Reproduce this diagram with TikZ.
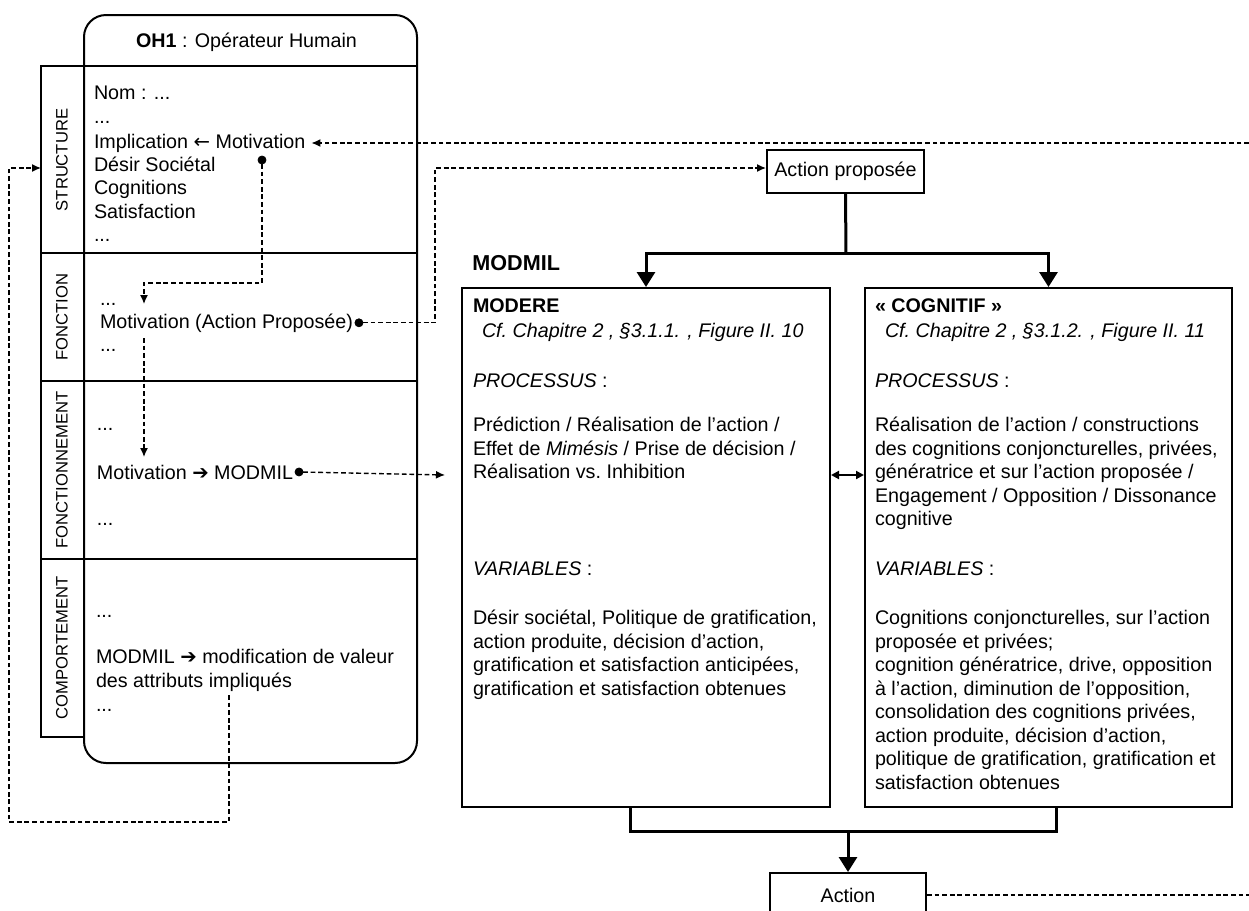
\documentclass[tikz,border=0pt]{standalone}
\usepackage{fontspec}
\setmainfont{Liberation Sans}
\newfontfamily\arrfont{DejaVu Sans}
\usetikzlibrary{arrows.meta,positioning,calc}
\newcommand{\txtfont}{\fontsize{9.85}{11.75}\selectfont}
\newcommand{\tabfont}{\fontsize{8.3}{10}\selectfont}
\newcommand{\bigarr}{{\arrfont ➔}}
\newcommand{\thinarr}{{\arrfont ←}}
\tikzset{
    txt/.style={inner sep=0pt,outer sep=0pt,anchor=base west,font=\txtfont},
    blk/.style={inner sep=0pt,outer sep=0pt,anchor=north west,align=left,font=\txtfont},
    tablabel/.style={rotate=90,inner sep=0pt,font=\tabfont},
    panel/.style={line width=1pt},
    bigbox/.style={draw,line width=1pt,inner sep=0pt,minimum height=259.5pt},
    smallbox/.style={draw,line width=1pt,inner sep=0pt,font=\txtfont},
    dot/.style={draw,fill,circle,inner sep=0pt,outer sep=0pt,minimum size=4pt},
    dashline/.style={dash pattern=on 2.4pt off 1.4pt,line width=0.7pt},
    dasharrow/.style={dashline,-{Latex[length=4.5pt,width=4pt]}},
    flow/.style={line width=1.5pt,-{Triangle[length=7.5pt,width=9pt]}},
    bar/.style={line width=1.5pt,line join=miter},
    dbl/.style={line width=1pt,{Triangle[length=4pt,width=4pt]}-{Triangle[length=4pt,width=4pt]}},
}
\begin{document}
\begin{tikzpicture}[x=0.5pt,y=-0.5pt]
\clip (0,0) rectangle (1249,911);
% --- OH1 panel ---
\draw[panel,rounded corners=11pt] (84,15) rectangle (417,763);
\draw[panel] (41,66) rectangle (84,737);
\draw[panel] (41,66) -- (417,66);
\draw[panel] (41,253) -- (417,253);
\draw[panel] (41,381) -- (417,381);
\draw[panel] (41,559) -- (417,559);
\node[font=\txtfont] (title) at (246.5,42) {\textbf{OH1} : Opérateur Humain};
% side labels
\node[tablabel] (lstruct) at (62,160) {STRUCTURE};
\node[tablabel] (lfonc) at (62,317) {FONCTION};
\node[tablabel] (lfoncmt) at (62,470) {FONCTIONNEMENT};
\node[tablabel] (lcomp) at (62,648) {COMPORTEMENT};
% structure
\node[blk] (nom) at (94,83.5) {\strut Nom : ...\\...};
\node[txt] (impl) at (94,148) {Implication \thinarr{} Motivation};
\node[blk] (attr) at (94,155) {\strut Désir Sociétal\\Cognitions\\Satisfaction\\...};
\node[dot] (d1) at (262,160) {};
% fonction
\node[txt] (fdots) at (100,305) {...};
\node[txt] (fmot) at (100,328) {Motivation (Action Proposée)};
\node[txt] (fdots2) at (100,351) {...};
\node[dot] (d2) at ([xshift=3pt]fmot.east) {};
% fonctionnement
\node[txt] (ndots) at (97,430) {...};
\node[txt] (nmot) at (97,479) {Motivation \bigarr{} MODMIL};
\node[txt] (ndots2) at (97,525) {...};
\node[dot] (d3) at ([xshift=3pt]nmot.east) {};
% comportement
\node[txt] (cdots) at (96,617) {...};
\node[blk] (cmod) at (96,647.5) {\strut MODMIL \bigarr{} modification de valeur\\des attributs impliqués};
\node[txt] (cdots2) at (96,711) {...};
% --- MODMIL ---
\node[anchor=base west,inner sep=0pt,font=\fontsize{10.8}{13}\selectfont\bfseries] (modmil) at (472,270) {MODMIL};
\node[smallbox,minimum width=78.5pt,minimum height=21.5pt] (ap) at (845.5,171.5) {Action proposée};
\node[bigbox,minimum width=184pt] (modere) at (646,547.5) {};
\node[bigbox,minimum width=183.5pt] (cognitif) at (1048.5,547.5) {};
\node[smallbox,minimum width=78pt,minimum height=22pt] (act) at (848,895) {Action};
% MODERE text
\node[txt] (mtitle) at (473,312) {\textbf{MODERE}};
\node[txt] (mcf) at (482,337) {\textit{Cf.\ Chapitre 2 , §3.1.1. , Figure II.\ 10}};
\node[txt] (mproc) at (473,387) {\textit{PROCESSUS} :};
\node[blk] (mproctxt) at (473,415.5) {\strut Prédiction / Réalisation de l’action /\\Effet de \textit{Mimésis} / Prise de décision /\\Réalisation vs.\ Inhibition};
\node[txt] (mvar) at (473,575) {\textit{VARIABLES} :};
\node[blk] (mvartxt) at (473,608.5) {\strut Désir sociétal, Politique de gratification,\\action produite, décision d'action,\\gratification et satisfaction anticipées,\\gratification et satisfaction obtenues};
% COGNITIF text
\node[txt] (ctitle) at (875,312) {\textbf{« COGNITIF »}};
\node[txt] (ccf) at (885,337) {\textit{Cf.\ Chapitre 2 , §3.1.2. , Figure II.\ 11}};
\node[txt] (cproc) at (875,387) {\textit{PROCESSUS} :};
\node[blk] (cproctxt) at (875,415.5) {\strut Réalisation de l’action / constructions\\des cognitions conjoncturelles, privées,\\génératrice et sur l’action proposée /\\Engagement / Opposition / Dissonance\\cognitive};
\node[txt] (cvar) at (875,575) {\textit{VARIABLES} :};
\node[blk] (cvartxt) at (875,608.5) {\strut Cognitions conjoncturelles, sur l’action\\proposée et privées;\\cognition génératrice, drive, opposition\\à l’action, diminution de l’opposition,\\consolidation des cognitions privées,\\action produite, décision d’action,\\politique de gratification, gratification et\\satisfaction obtenues};
% --- helper points ---
\coordinate (outR) at (1249,143);
\coordinate (jog1) at (144,283);
\coordinate (tip1) at (144,304);
\coordinate (fa) at (144,338);
\coordinate (fb) at (144,457);
\coordinate (jog2) at (435,168);
\coordinate (tip3) at (445,475);
\coordinate (cs) at (229,695);
\coordinate (lpb) at (9,822);
\coordinate (tabin) at (41,168);
\coordinate (split) at (846,253);
\coordinate (merge) at (848,831);
\coordinate (mid) at (848,475);
\coordinate (outA) at (1249,895);
% --- dashed links ---
\draw[dasharrow] (outR) -- ([xshift=3pt]impl.east |- outR);
\draw[dasharrow] (d1) |- (jog1) -- (tip1);
\draw[dasharrow] (fa) -- (fb);
\draw[dasharrow] (d2) -| (jog2) -- (jog2 -| ap.west);
\draw[dasharrow] (d3) -- (tip3);
\draw[dasharrow] (cs) |- (lpb) |- (tabin);
\draw[dashline] (act.east) -- (outA);
% --- main flow ---
\draw[bar] (ap.south) -- (split);
\draw[flow] (split) -| (modere.north);
\draw[flow] (split) -| (cognitif.north);
\draw[dbl] (mid -| modere.east) -- (mid -| cognitif.west);
\draw[bar] ([xshift=-8pt]modere.south) |- (merge) -| ([xshift=4pt]cognitif.south);
\draw[flow] (merge) -- (act.north);
\end{tikzpicture}
\end{document}
